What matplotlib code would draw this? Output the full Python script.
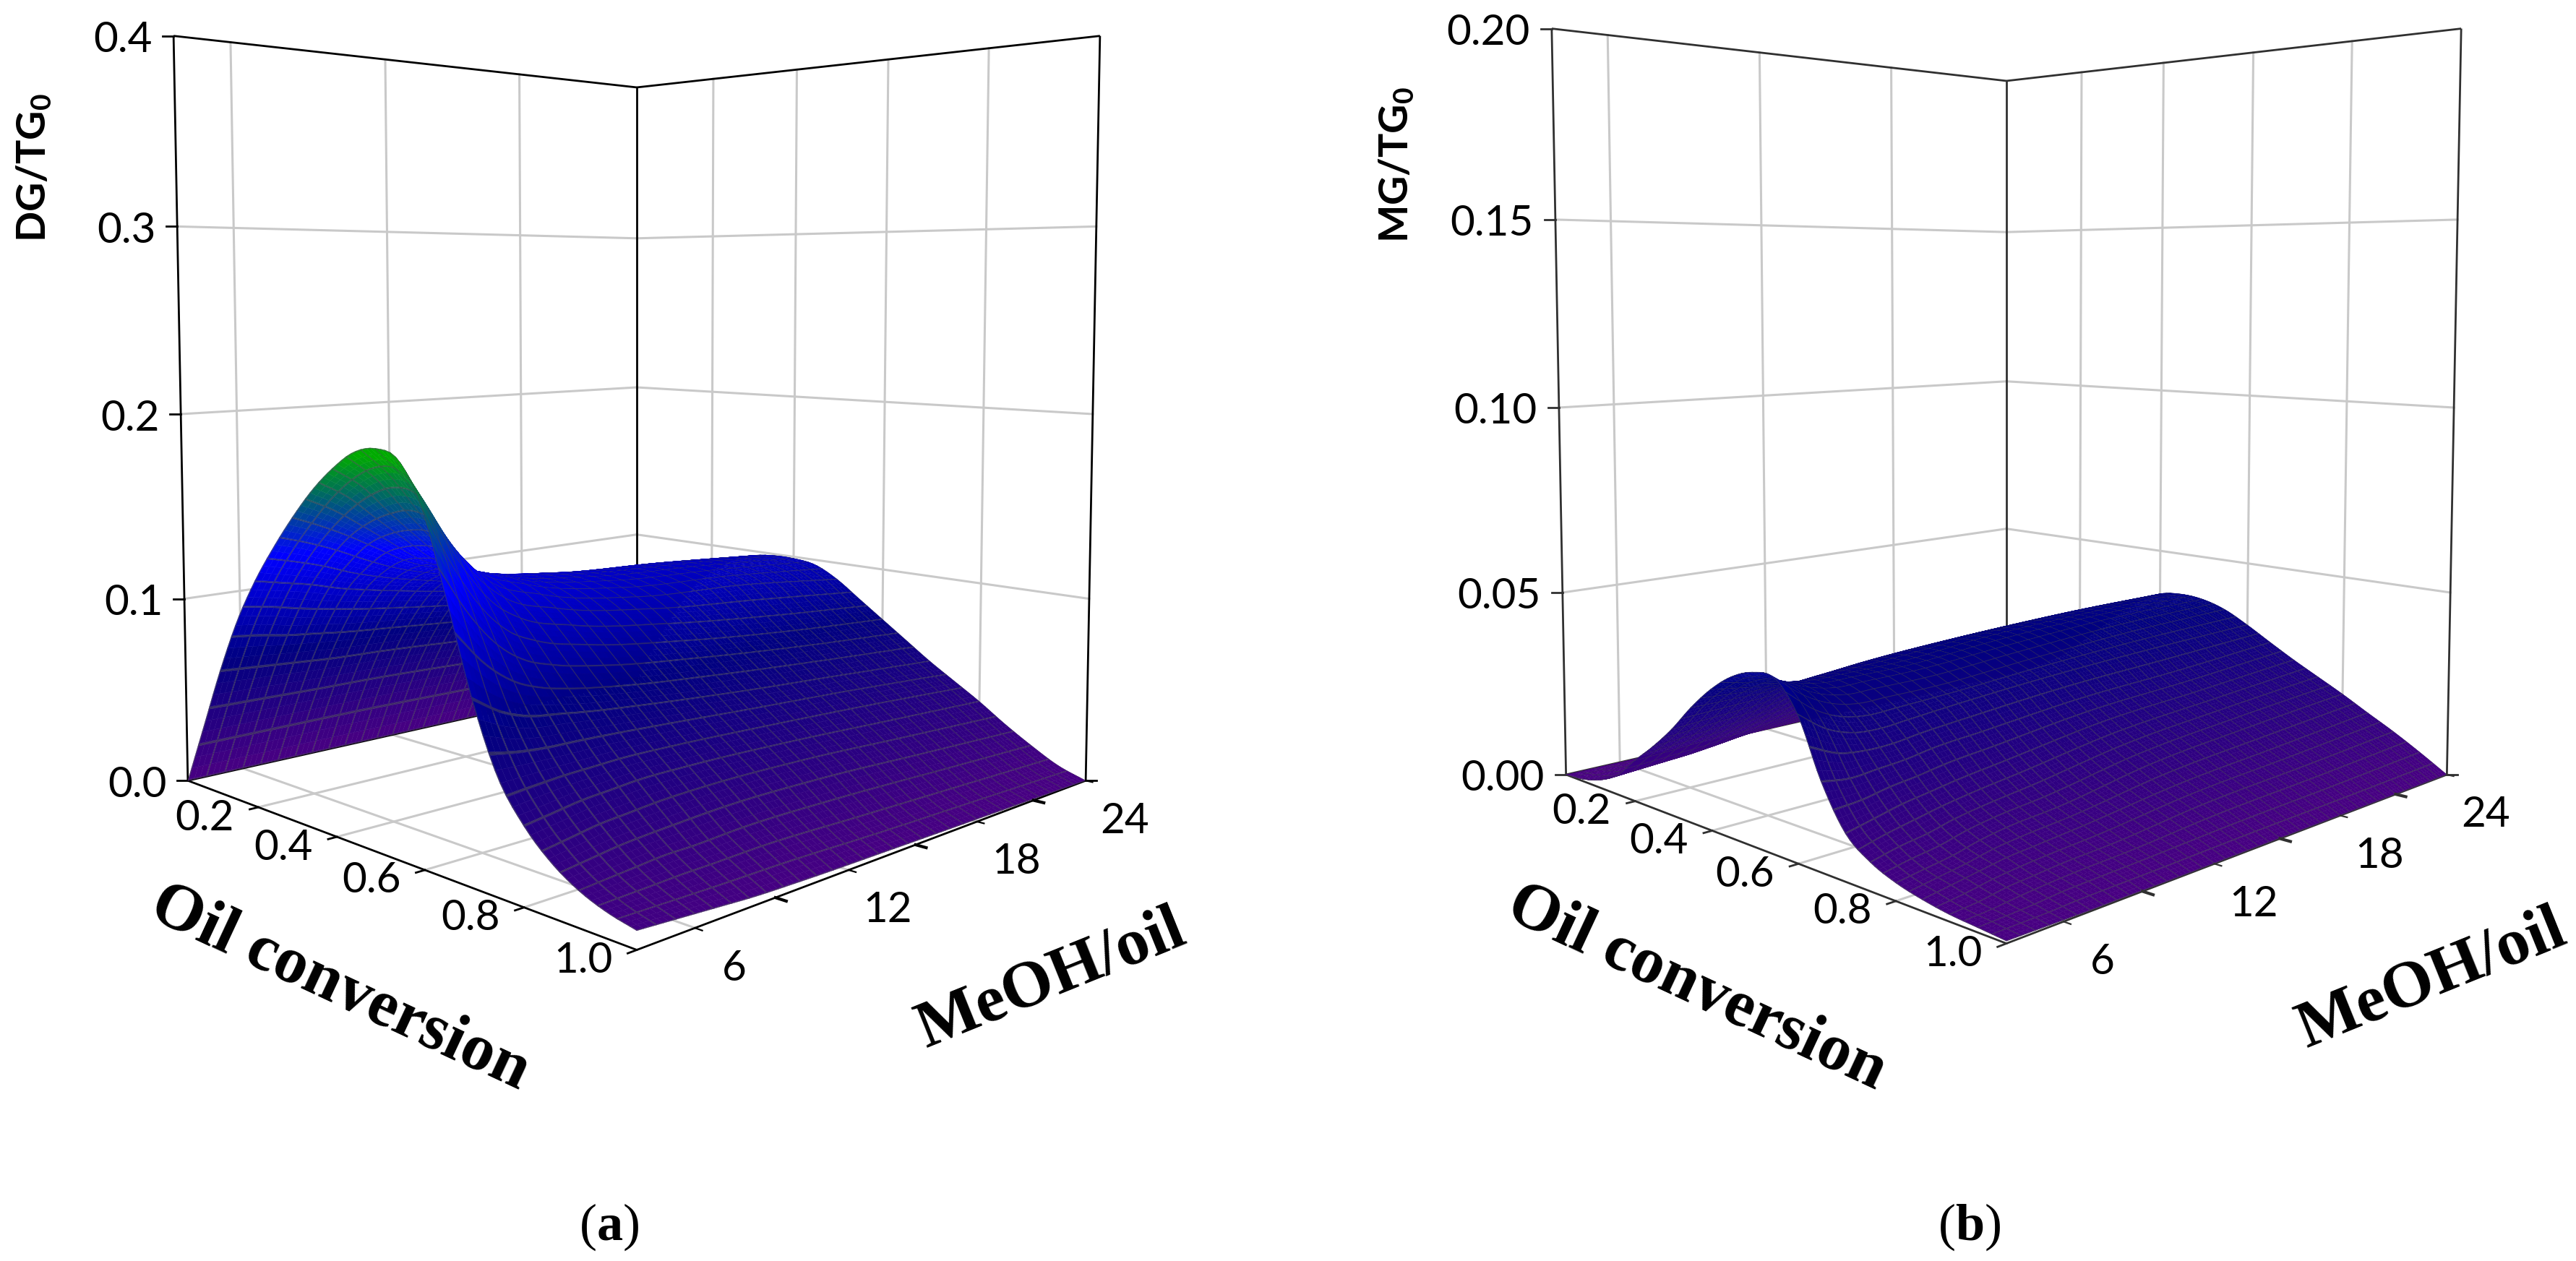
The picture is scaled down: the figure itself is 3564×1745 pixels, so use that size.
#!/usr/bin/env python3
import numpy as np
import matplotlib
matplotlib.use("Agg")
import matplotlib.pyplot as plt
from matplotlib.colors import LinearSegmentedColormap
from mpl_toolkits.mplot3d import proj3d
from mpl_toolkits.mplot3d.art3d import Poly3DCollection

W, H = 3564, 1745

plt.rcParams['font.family'] = ['Lato', 'DejaVu Sans']
plt.rcParams['mathtext.fontset'] = 'custom'
plt.rcParams['mathtext.rm'] = 'Liberation Serif'
plt.rcParams['mathtext.bf'] = 'Liberation Serif:bold'
plt.rcParams['mathtext.sf'] = 'Lato:bold'

# values: rows are oil conversion, columns MeOH/oil
OIL = [0.0, 0.05, 0.10, 0.15, 0.20, 0.25, 0.30, 0.35, 0.40, 0.45, 0.50,
       0.55, 0.60, 0.65, 0.70, 0.75, 0.80, 0.85, 0.90, 0.95, 1.0]
MEOH = [4, 5, 6, 7, 8, 10, 14, 19, 24]

DG = [
    [0.000, 0.000, 0.000, 0.000, 0.000, 0.000, 0.000, 0.000, 0.000],
    [0.033, 0.033, 0.033, 0.033, 0.033, 0.033, 0.032, 0.030, 0.027],
    [0.066, 0.065, 0.064, 0.063, 0.062, 0.061, 0.058, 0.054, 0.050],
    [0.095, 0.093, 0.090, 0.088, 0.086, 0.083, 0.078, 0.074, 0.070],
    [0.118, 0.115, 0.112, 0.108, 0.105, 0.100, 0.092, 0.088, 0.083],
    [0.137, 0.133, 0.128, 0.122, 0.117, 0.110, 0.101, 0.097, 0.092],
    [0.154, 0.148, 0.141, 0.133, 0.125, 0.115, 0.106, 0.102, 0.097],
    [0.169, 0.161, 0.150, 0.139, 0.128, 0.117, 0.108, 0.104, 0.099],
    [0.181, 0.171, 0.156, 0.142, 0.129, 0.117, 0.108, 0.104, 0.099],
    [0.190, 0.177, 0.159, 0.142, 0.128, 0.116, 0.106, 0.102, 0.097],
    [0.193, 0.177, 0.155, 0.136, 0.122, 0.111, 0.101, 0.097, 0.090],
    [0.189, 0.165, 0.141, 0.122, 0.111, 0.102, 0.093, 0.086, 0.080],
    [0.168, 0.140, 0.118, 0.104, 0.097, 0.090, 0.082, 0.075, 0.070],
    [0.128, 0.108, 0.094, 0.086, 0.082, 0.077, 0.071, 0.065, 0.060],
    [0.086, 0.077, 0.072, 0.070, 0.068, 0.065, 0.060, 0.055, 0.050],
    [0.054, 0.054, 0.054, 0.054, 0.054, 0.053, 0.050, 0.046, 0.041],
    [0.036, 0.038, 0.040, 0.041, 0.042, 0.042, 0.040, 0.036, 0.032],
    [0.024, 0.026, 0.028, 0.029, 0.030, 0.031, 0.030, 0.026, 0.022],
    [0.016, 0.017, 0.018, 0.019, 0.019, 0.020, 0.019, 0.016, 0.013],
    [0.011, 0.011, 0.011, 0.011, 0.011, 0.011, 0.009, 0.007, 0.005],
    [0.008, 0.007, 0.006, 0.005, 0.004, 0.003, 0.002, 0.001, 0.000],
]

MG = [
    [0.0000, 0.0000, 0.0000, 0.0000, 0.0000, 0.0000, 0.0000, 0.0000, 0.0000],
    [0.0005, 0.0010, 0.0015, 0.0020, 0.0022, 0.0025, 0.0030, 0.0030, 0.0030],
    [0.0020, 0.0025, 0.0030, 0.0035, 0.0040, 0.0055, 0.0065, 0.0065, 0.0065],
    [0.0050, 0.0055, 0.0060, 0.0065, 0.0075, 0.0095, 0.0105, 0.0110, 0.0105],
    [0.0107, 0.0110, 0.0115, 0.0120, 0.0130, 0.0145, 0.0160, 0.0165, 0.0160],
    [0.0160, 0.0165, 0.0170, 0.0175, 0.0185, 0.0205, 0.0225, 0.0225, 0.0220],
    [0.0220, 0.0225, 0.0230, 0.0235, 0.0245, 0.0260, 0.0270, 0.0280, 0.0280],
    [0.0290, 0.0290, 0.0290, 0.0290, 0.0295, 0.0310, 0.0325, 0.0330, 0.0330],
    [0.0350, 0.0340, 0.0330, 0.0325, 0.0330, 0.0340, 0.0355, 0.0365, 0.0365],
    [0.0395, 0.0375, 0.0355, 0.0345, 0.0345, 0.0345, 0.0365, 0.0375, 0.0375],
    [0.0420, 0.0385, 0.0355, 0.0340, 0.0340, 0.0340, 0.0355, 0.0370, 0.0370],
    [0.0420, 0.0365, 0.0330, 0.0315, 0.0315, 0.0315, 0.0330, 0.0345, 0.0350],
    [0.0350, 0.0300, 0.0275, 0.0270, 0.0275, 0.0285, 0.0300, 0.0310, 0.0315],
    [0.0210, 0.0200, 0.0205, 0.0210, 0.0220, 0.0230, 0.0250, 0.0260, 0.0275],
    [0.0110, 0.0125, 0.0140, 0.0150, 0.0160, 0.0175, 0.0205, 0.0220, 0.0236],
    [0.0065, 0.0080, 0.0090, 0.0105, 0.0115, 0.0130, 0.0165, 0.0185, 0.0200],
    [0.0040, 0.0050, 0.0060, 0.0075, 0.0085, 0.0095, 0.0130, 0.0150, 0.0164],
    [0.0025, 0.0035, 0.0045, 0.0055, 0.0060, 0.0070, 0.0095, 0.0110, 0.0125],
    [0.0015, 0.0020, 0.0030, 0.0035, 0.0040, 0.0045, 0.0065, 0.0075, 0.0087],
    [0.0010, 0.0012, 0.0015, 0.0020, 0.0022, 0.0025, 0.0033, 0.0038, 0.0045],
    [0.0005, 0.0004, 0.0003, 0.0002, 0.0002, 0.0001, 0.0001, 0.0000, 0.0000],
]

OIL_TICKS = [0.2, 0.4, 0.6, 0.8, 1.0]
MEOH_TICKS = [6, 12, 18, 24]
MEOH_MINOR = [9, 15, 21]
DG_TICKS = [0.0, 0.1, 0.2, 0.3, 0.4]
MG_TICKS = [0.00, 0.05, 0.10, 0.15, 0.20]

GRID = '#c9c9c9'
MESH = np.array([70, 70, 82]) / 255
rainbow = LinearSegmentedColormap.from_list('surf', [
    (0.00, (72 / 255, 0, 130 / 255)),
    (0.18, (0, 0, 128 / 255)),
    (0.33, (0, 0, 1)),
    (0.47, (0, 170 / 255, 0)),
    (1.00, (0, 170 / 255, 0)),
])


def smooth_axis(knots, vals, q, axis):
    # cubic Hermite through the read values, only so the facets render smooth
    knots = np.asarray(knots, float)
    vals = np.moveaxis(np.asarray(vals, float), axis, 0)
    slopes = np.gradient(vals, knots, axis=0)
    i = np.clip(np.searchsorted(knots, q) - 1, 0, len(knots) - 2)
    h = knots[i + 1] - knots[i]
    t = (q - knots[i]) / h
    shape = (-1,) + (1,) * (vals.ndim - 1)
    t = t.reshape(shape)
    h = h.reshape(shape)
    out = ((2 * t**3 - 3 * t**2 + 1) * vals[i] + (t**3 - 2 * t**2 + t) * h * slopes[i]
           + (-2 * t**3 + 3 * t**2) * vals[i + 1] + (t**3 - t**2) * h * slopes[i + 1])
    return np.moveaxis(out, 0, axis)


def fine_coords(lo, hi, cells):
    # each mesh cell gets thin strips at its edges: those become the mesh lines
    sub = np.array([0, 0.035, 0.35, 0.65, 0.965])
    base = np.arange(cells)[:, None] + sub
    out = np.append(base.ravel(), cells) / cells
    is_line = np.zeros(len(out) - 1, bool)
    is_line[0::5] = True
    is_line[4::5] = True
    return lo + (hi - lo) * out, is_line


def draw_surface(ax, values, zmax, cells):
    s, s_line = fine_coords(OIL[0], OIL[-1], cells)
    m, m_line = fine_coords(MEOH[0], MEOH[-1], cells)
    z = smooth_axis(MEOH, smooth_axis(OIL, values, s, 0), m, 1)
    z = np.clip(z, 0, None)
    ss, mm = np.meshgrid(s, m, indexing='ij')
    pts = np.dstack([ss, mm, z])
    verts = np.stack([pts[:-1, :-1], pts[1:, :-1], pts[1:, 1:], pts[:-1, 1:]], axis=2)
    zmid = (z[:-1, :-1] + z[1:, 1:] + z[1:, :-1] + z[:-1, 1:]) / 4
    cols = rainbow(zmid / zmax)
    line = s_line[:, None] | m_line[None, :]
    cols[line, :3] = 0.45 * cols[line, :3] + 0.55 * MESH
    verts = verts.reshape(-1, 4, 3)
    cols = cols.reshape(-1, 4)
    pc = Poly3DCollection(verts, facecolors=cols, edgecolors=cols, linewidths=0.3, zorder=3)
    ax.add_collection3d(pc)


def draw_panel(fig, values, zticks, zfmt, zlabel, letter, cx, y0, scale, zaspect, focal,
               frame, zlab_x, zlab_y, oil_xy, meoh_xy, letter_xy):
    # place the 3d axes so that the view centre lands on (cx, y0) in pixels
    size = 0.185 * scale
    left = cx - 0.095 * scale
    bottom = (H - y0) - 0.095 * scale
    ax = fig.add_axes([left / W, bottom / H, size / W, size / H], projection='3d')
    ax.computed_zorder = False
    ax.set_box_aspect((1, 1, zaspect))
    ax.set_xlim(OIL[0], OIL[-1], view_margin=0)
    ax.set_ylim(MEOH[0], MEOH[-1], view_margin=0)
    ax.set_zlim(zticks[0], zticks[-1], view_margin=0)
    ax.view_init(elev=4.23, azim=-45)
    ax.set_proj_type('persp', focal_length=focal)
    ax.set_axis_off()

    o0, o1 = OIL[0], OIL[-1]
    m0, m1 = MEOH[0], MEOH[-1]
    z0, z1 = zticks[0], zticks[-1]

    # grey walls and floor
    for o in OIL_TICKS[:-1]:
        ax.plot([o, o], [m1, m1], [z0, z1], color=GRID, lw=2.2, zorder=1)
        ax.plot([o, o], [m0, m1], [z0, z0], color=GRID, lw=2.2, zorder=1)
    for m in MEOH_TICKS[:-1]:
        ax.plot([o0, o0], [m, m], [z0, z1], color=GRID, lw=2.2, zorder=1)
        ax.plot([o0, o1], [m, m], [z0, z0], color=GRID, lw=2.2, zorder=1)
    for zt in zticks[1:-1]:
        ax.plot([o0, o0], [m0, m1], [zt, zt], color=GRID, lw=2.2, zorder=1)
        ax.plot([o0, o1], [m1, m1], [zt, zt], color=GRID, lw=2.2, zorder=1)

    # frame
    for xs, ys, zs in [([o0, o0], [m0, m0], [z0, z1]),
                       ([o0, o0], [m1, m1], [z0, z1]),
                       ([o1, o1], [m1, m1], [z0, z1]),
                       ([o0, o0], [m0, m1], [z1, z1]),
                       ([o0, o1], [m1, m1], [z1, z1]),
                       ([o0, o0], [m0, m1], [z0, z0]),
                       ([o0, o1], [m0, m0], [z0, z0]),
                       ([o1, o1], [m0, m1], [z0, z0])]:
        ax.plot(xs, ys, zs, color=frame, lw=2.0, zorder=2, solid_capstyle='butt')

    draw_surface(ax, values, z1, 30 if letter == 'a' else 40)

    # ticks
    for zt in zticks:
        ax.plot([o0, o0 - 0.012], [m0, m0 - 0.24], [zt, zt], color=frame, lw=2.0, zorder=2)
    ax.plot([o1, o1 + 0.012], [m1, m1 + 0.24], [z0, z0], color=frame, lw=2.0, zorder=2)
    for o in OIL_TICKS:
        ax.plot([o, o], [m0, m0 - 0.3], [z0, z0], color=frame, lw=2.0, zorder=2)
    for m in MEOH_TICKS:
        ax.plot([o1, o1 + 0.012], [m, m], [z0, z0], color=frame, lw=1.6, zorder=4)
    for m in MEOH_MINOR:
        ax.plot([o1, o1 + 0.018], [m, m], [z0, z0], color=frame, lw=3.0, zorder=4)

    # tick labels, located through the projection
    M = ax.get_proj()

    def label(x, y, z, txt, dx, dy):
        px, py, _ = proj3d.proj_transform(x, y, z, M)
        ax.annotate(txt, xy=(px, py), xytext=(dx, dy), textcoords='offset pixels',
                    ha='center', va='center', fontsize=42, color='black')

    for zt in zticks:
        label(o0, m0, zt, zfmt % zt, -70 if letter == 'a' else -88, -6)
    for o in OIL_TICKS:
        label(o, m0, z0, '%.1f' % o, -74, -15)
    for m in MEOH_TICKS:
        label(o1, m, z0, '%d' % m, 54, -56)

    fig.text(zlab_x / W, 1 - zlab_y / H, zlabel, rotation=90, ha='center', va='center',
             fontsize=40, fontweight='bold', color='black')
    fig.text(oil_xy[0] / W, 1 - oil_xy[1] / H, 'Oil conversion', rotation=-25, rotation_mode='anchor',
             ha='center', va='center', fontsize=66, fontweight='bold', family='Liberation Serif')
    fig.text(meoh_xy[0] / W, 1 - meoh_xy[1] / H, 'MeOH/oil', rotation=22, rotation_mode='anchor',
             ha='center', va='center', fontsize=66, fontweight='bold', family='Liberation Serif')
    fig.text(letter_xy[0] / W, 1 - letter_xy[1] / H, r'($\mathbf{%s}$)' % letter, ha='center', va='center',
             fontsize=52, family='Liberation Serif')
    return ax


def main():
    fig = plt.figure(figsize=(W / 100, H / 100), dpi=100, facecolor='white')
    draw_panel(fig, DG, DG_TICKS, '%.1f', r'DG/TG$\mathsf{_0}$', 'a', 881, 573, 8557, 1.158, 0.2848,
               'black', 47, 232, (470, 1368), (1455, 1356), (843, 1698))
    draw_panel(fig, MG, MG_TICKS, '%.2f', r'MG/TG$\mathsf{_0}$', 'b', 2776, 564, 8468, 1.182, 0.282,
               '#303030', 1932, 228, (2347, 1368), (3365, 1356), (2725, 1698))
    fig.savefig('out.png', dpi=100)


if __name__ == '__main__':
    main()
